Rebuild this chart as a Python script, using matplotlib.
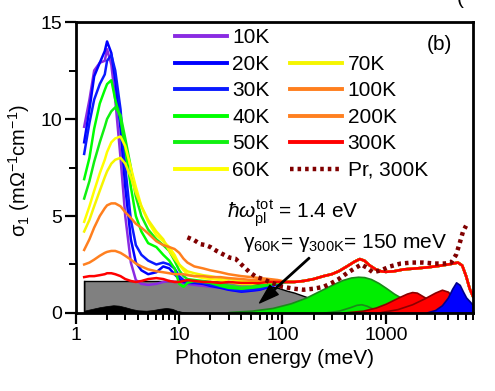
import matplotlib
matplotlib.use("Agg")
import matplotlib.pyplot as plt
from matplotlib.lines import Line2D
from matplotlib.ticker import FixedLocator, FixedFormatter, NullFormatter

plt.rcParams['font.family'] = ['Liberation Sans', 'DejaVu Sans']
plt.rcParams['mathtext.fontset'] = 'custom'
plt.rcParams['mathtext.rm'] = 'Liberation Sans'
plt.rcParams['mathtext.it'] = 'Liberation Sans:italic'
plt.rcParams['mathtext.bf'] = 'Liberation Sans:bold'

# ---------------- data ----------------
E_lo = [1.2, 1.35, 1.5, 1.7, 1.9, 2.0, 2.2, 2.4, 2.7, 3.0, 3.4, 3.8, 4.3, 5.0, 6.0, 7.0,
        8.0, 9.0, 10, 11, 12, 14, 17, 20, 25, 30, 40, 50, 60, 75, 90]
E_hi = [110, 130, 160, 200, 250, 300, 350, 420, 500, 560, 620, 700, 800, 900, 1000, 1200,
        1500, 2000, 2500, 3000, 3500, 4000, 4500, 5000, 5500, 6000, 6500, 7000]
s_hi = [1.6, 1.6, 1.65, 1.75, 1.9, 2.0, 2.15, 2.4, 2.65, 2.78, 2.7, 2.45, 2.25, 2.15, 2.12, 2.15,
        2.25, 2.3, 2.35, 2.4, 2.45, 2.5, 2.55, 2.6, 2.45, 1.9, 1.25, 0.85]

s_10K = [9.6, 11.0, 12.5, 12.9, 13.0, 13.6, 12.8, 11.0, 8.0, 5.0, 2.6, 1.7, 1.5, 1.45, 1.5, 1.6,
         1.65, 1.6, 1.6, 1.55, 1.5, 1.45, 1.4, 1.35, 1.3, 1.2, 1.1, 1.15, 1.2, 1.35, 1.5]
s_20K = [8.8, 10.5, 12.2, 12.9, 13.5, 14.0, 13.4, 12.0, 9.5, 6.5, 3.8, 2.6, 2.2, 2.0, 2.1, 2.4,
         2.3, 2.0, 1.75, 1.6, 1.55, 1.55, 1.5, 1.4, 1.3, 1.2, 1.1, 1.15, 1.2, 1.35, 1.5]
s_30K = [8.2, 9.8, 11.0, 11.8, 12.3, 13.0, 13.3, 12.5, 10.5, 7.5, 4.8, 3.5, 3.0, 2.7, 2.5, 2.6,
         2.5, 2.3, 1.9, 1.7, 1.6, 1.6, 1.55, 1.45, 1.35, 1.25, 1.15, 1.2, 1.25, 1.4, 1.5]
s_40K = [6.9, 8.0, 9.5, 10.8, 11.5, 11.8, 12.0, 11.0, 10.0, 8.5, 6.5, 5.0, 4.2, 3.6, 3.4, 3.0,
         2.7, 2.3, 1.5, 1.35, 1.55, 1.65, 1.6, 1.55, 1.4, 1.3, 1.25, 1.3, 1.35, 1.45, 1.55]
s_50K = [5.9, 6.8, 7.8, 8.8, 9.6, 10.0, 10.4, 10.6, 10.2, 9.0, 7.5, 6.0, 5.0, 4.3, 3.8, 3.5,
         3.2, 2.7, 2.2, 1.9, 1.75, 1.7, 1.65, 1.6, 1.5, 1.4, 1.3, 1.35, 1.4, 1.5, 1.6]
s_60K = [4.7, 5.5, 6.3, 7.2, 7.9, 8.3, 8.8, 9.0, 9.1, 8.6, 7.5, 6.5, 5.5, 4.7, 4.0, 3.7,
         3.4, 3.0, 2.5, 2.2, 2.0, 1.9, 1.8, 1.75, 1.7, 1.6, 1.5, 1.5, 1.55, 1.6, 1.6]
s_70K = [4.2, 4.8, 5.5, 6.3, 7.0, 7.3, 7.7, 7.9, 8.0, 7.7, 7.0, 6.2, 5.5, 4.8, 4.2, 3.8,
         3.2, 2.8, 2.5, 2.3, 2.15, 2.05, 1.95, 1.9, 1.8, 1.75, 1.65, 1.6, 1.6, 1.6, 1.6]
s_100K = [3.25, 3.8, 4.4, 5.0, 5.4, 5.55, 5.65, 5.65, 5.5, 5.2, 4.9, 4.6, 4.4, 4.1, 3.7, 3.5,
          3.4, 3.3, 3.1, 2.8, 2.6, 2.4, 2.3, 2.2, 2.1, 2.0, 1.9, 1.85, 1.8, 1.75, 1.7]
s_200K = [2.5, 2.6, 2.75, 2.95, 3.1, 3.15, 3.2, 3.2, 3.1, 2.95, 2.75, 2.55, 2.4, 2.25, 2.15, 2.1,
          2.05, 2.0, 2.0, 2.0, 1.95, 1.9, 1.9, 1.85, 1.85, 1.8, 1.75, 1.7, 1.7, 1.65, 1.65]
s_300K = [1.85, 1.9, 1.9, 1.95, 2.0, 2.05, 2.05, 2.0, 1.9, 1.75, 1.65, 1.6, 1.65, 1.75, 1.8, 1.75,
          1.65, 1.6, 1.6, 1.65, 1.7, 1.65, 1.6, 1.6, 1.55, 1.6, 1.55, 1.55, 1.55, 1.6, 1.6]

temp_labels = ['10K', '20K', '30K', '40K', '50K', '60K', '70K', '100K', '200K', '300K']
temp_sigmas = [s_10K, s_20K, s_30K, s_40K, s_50K, s_60K, s_70K, s_100K, s_200K, s_300K]
temp_colors = ['#8a2be2', '#0000ff', '#0a1aff', '#00ff00', '#10f010', '#ffff00', '#f5f500',
               '#ff7f1e', '#ff8020', '#ff0000']

E_pr = [12, 14, 16, 18, 20, 23, 26, 31, 35, 40, 48, 56, 65, 75, 90, 100, 130, 160, 200, 250,
        300, 350, 420, 500, 580, 650, 750, 900, 1100, 1400, 1800, 2300, 3000, 3700, 4300, 4800,
        5200, 5600, 6000]
s_pr = [3.9, 3.75, 3.55, 3.5, 3.4, 3.2, 3.05, 2.85, 2.8, 2.5, 2.1, 1.85, 1.75, 1.6, 1.45, 1.35,
        1.25, 1.2, 1.25, 1.35, 1.55, 1.75, 2.05, 2.3, 2.5, 2.35, 2.1, 2.2, 2.4, 2.55, 2.6, 2.6,
        2.55, 2.55, 2.6, 3.0, 3.6, 4.2, 4.5]

# model components (filled areas)
E_drude = [1.2, 5, 10, 20, 30, 40, 50, 60, 75, 90, 110, 130, 160, 200, 250, 300, 400, 500,
           700, 1000, 1500, 2000, 3000]
s_drude = [1.65, 1.65, 1.65, 1.63, 1.6, 1.57, 1.52, 1.47, 1.38, 1.3, 1.15, 1.05, 0.88, 0.7,
           0.5, 0.38, 0.24, 0.16, 0.08, 0.04, 0.02, 0.01, 0.0]
E_osc = [1.2, 1.4, 1.7, 2.0, 2.3, 2.6, 3.0, 3.5, 4.0, 4.8, 5.5, 6.5, 7.5, 8.5, 9.5, 11, 13]
s_osc = [0.12, 0.2, 0.3, 0.36, 0.4, 0.38, 0.3, 0.2, 0.14, 0.12, 0.15, 0.22, 0.26, 0.22, 0.12,
         0.04, 0.0]
E_green = [30, 50, 80, 120, 170, 230, 300, 380, 460, 540, 620, 720, 850, 1000, 1200, 1500,
           1800, 2200, 2700, 3500]
s_green = [0.05, 0.12, 0.26, 0.5, 0.8, 1.15, 1.45, 1.7, 1.83, 1.87, 1.85, 1.75, 1.55, 1.3,
           1.0, 0.7, 0.45, 0.3, 0.18, 0.08]
E_green2 = [250, 350, 450, 520, 580, 650, 750, 900, 1100]
s_green2 = [0.02, 0.12, 0.3, 0.42, 0.45, 0.38, 0.22, 0.08, 0.02]
E_red1 = [400, 600, 800, 1000, 1300, 1600, 1800, 2000, 2400, 3000, 3600, 4500]
s_red1 = [0.03, 0.12, 0.28, 0.48, 0.78, 1.0, 1.08, 1.05, 0.8, 0.45, 0.2, 0.05]
E_red2 = [900, 1300, 1800, 2400, 3000, 3500, 4000, 4500, 5000, 5500, 6000]
s_red2 = [0.05, 0.2, 0.45, 0.77, 1.05, 1.2, 1.1, 0.8, 0.45, 0.2, 0.05]
E_blue = [2500, 3000, 3500, 4000, 4400, 4800, 5200, 5600, 6000, 6500, 7000]
s_blue = [0.03, 0.15, 0.4, 0.8, 1.25, 1.58, 1.45, 1.1, 0.8, 0.6, 0.4]

xtick_vals = [1, 10, 100, 1000]
xtick_labels = ['1', '10', '100', '1000']
ytick_vals = [0, 5, 10, 15]
ytick_labels = ['0', '5', '10', '15']

# ---------------- figure ----------------
fig = plt.figure(figsize=(4.95, 3.91), dpi=100)
ax = fig.add_axes([0.1535, 0.1995, 0.8021, 0.7442])
ax.set_xscale('log')
ax.set_xlim(1, 7000)
ax.set_ylim(0, 15)

# filled model components
ax.fill_between(E_drude, 0, s_drude, facecolor='#808080', edgecolor='black', lw=1.0, zorder=2)
ax.plot([E_drude[0], E_drude[0]], [0, s_drude[0]], color='black', lw=1.0, zorder=2)
ax.fill_between(E_osc, 0, s_osc, facecolor='black', edgecolor='black', lw=0.5, zorder=3)
ax.fill_between(E_green, 0, s_green, facecolor='#00ee00', edgecolor='#1a8a1a', lw=1.2, zorder=3)
ax.fill_between(E_green2, 0, s_green2, facecolor='#00ee00', edgecolor='#1a8a1a', lw=1.2, zorder=3)
ax.fill_between(E_red1, 0, s_red1, facecolor='#ff0000', edgecolor='#8b0000', lw=1.2, zorder=3)
ax.fill_between(E_red2, 0, s_red2, facecolor='#ff0000', edgecolor='#8b0000', lw=1.2, zorder=3)
ax.fill_between(E_blue, 0, s_blue, facecolor='#0000ff', edgecolor='#00008b', lw=1.2, zorder=3)

# measured spectra
for lab, s, c in zip(temp_labels, temp_sigmas, temp_colors):
    ax.plot(E_lo + E_hi, s + s_hi, color=c, lw=1.8, zorder=4)

ax.plot(E_pr, s_pr, color='#800000', lw=3.2, linestyle=(0, (0.8, 0.9)),
        dash_capstyle='butt', zorder=5)

# legend
handles = []
for lab, c in zip(temp_labels[:6], temp_colors[:6]):
    handles.append(Line2D([], [], color=c, lw=2.8, label=lab))
handles.append(Line2D([], [], color='none', lw=0, label=' '))
for lab, c in zip(temp_labels[6:], temp_colors[6:]):
    handles.append(Line2D([], [], color=c, lw=2.8, label=lab))
handles.append(Line2D([], [], color='#800000', lw=3.2, linestyle=(0, (0.8, 0.9)),
                      dash_capstyle='butt', label='Pr, 300K'))
leg = ax.legend(handles=handles, ncol=2, loc='upper left', bbox_to_anchor=(0.249, 0.978),
                frameon=False, fontsize=15, handlelength=2.5, handletextpad=0.25,
                labelspacing=0.36, columnspacing=1.0, borderpad=0, borderaxespad=0)
leg.set_zorder(6)

# annotations
fig.text(227 / 495, 1 - 218 / 391, r'$\hbar\omega_{\mathrm{pl}}^{\mathrm{tot}}$ = 1.4 eV',
         fontsize=15, ha='left', va='baseline')
fig.text(243 / 495, 1 - 248 / 391,
         r'$\mathrm{\gamma}_{\mathrm{60K}}$= $\mathrm{\gamma}_{\mathrm{300K}}$= 150 meV',
         fontsize=15, ha='left', va='baseline')
fig.text(427 / 495, 1 - 50 / 391, '(b)', fontsize=15, ha='left', va='baseline')
fig.text(457 / 495, 1 - 3.5 / 391, '(', fontsize=15, ha='left', va='baseline')
ax.annotate('', xy=(60, 0.52), xytext=(182, 2.84),
            arrowprops=dict(facecolor='black', edgecolor='black', width=1.0, headwidth=9,
                            headlength=14, shrink=0), zorder=7)

# axes styling
for sp in ax.spines.values():
    sp.set_linewidth(2.0)
    sp.set_zorder(8)
ax.xaxis.set_major_locator(FixedLocator(xtick_vals))
ax.xaxis.set_major_formatter(FixedFormatter(xtick_labels))
ax.xaxis.set_minor_formatter(NullFormatter())
ax.yaxis.set_major_locator(FixedLocator(ytick_vals))
ax.yaxis.set_major_formatter(FixedFormatter(ytick_labels))
ax.yaxis.set_minor_locator(FixedLocator([2.5, 7.5, 12.5]))
ax.tick_params(which='major', direction='out', length=8, width=1.6, labelsize=14, pad=2)
ax.tick_params(which='minor', direction='out', length=5, width=1.4)
ax.set_xlabel('Photon energy (meV)', fontsize=15, labelpad=4)
ax.set_ylabel(r'σ$_1$ (mΩ$^{-1}$cm$^{-1}$)', fontsize=14.5, labelpad=4)
ax.yaxis.set_label_coords(-0.11, 0.49)

fig.savefig('out.png', dpi=100)
